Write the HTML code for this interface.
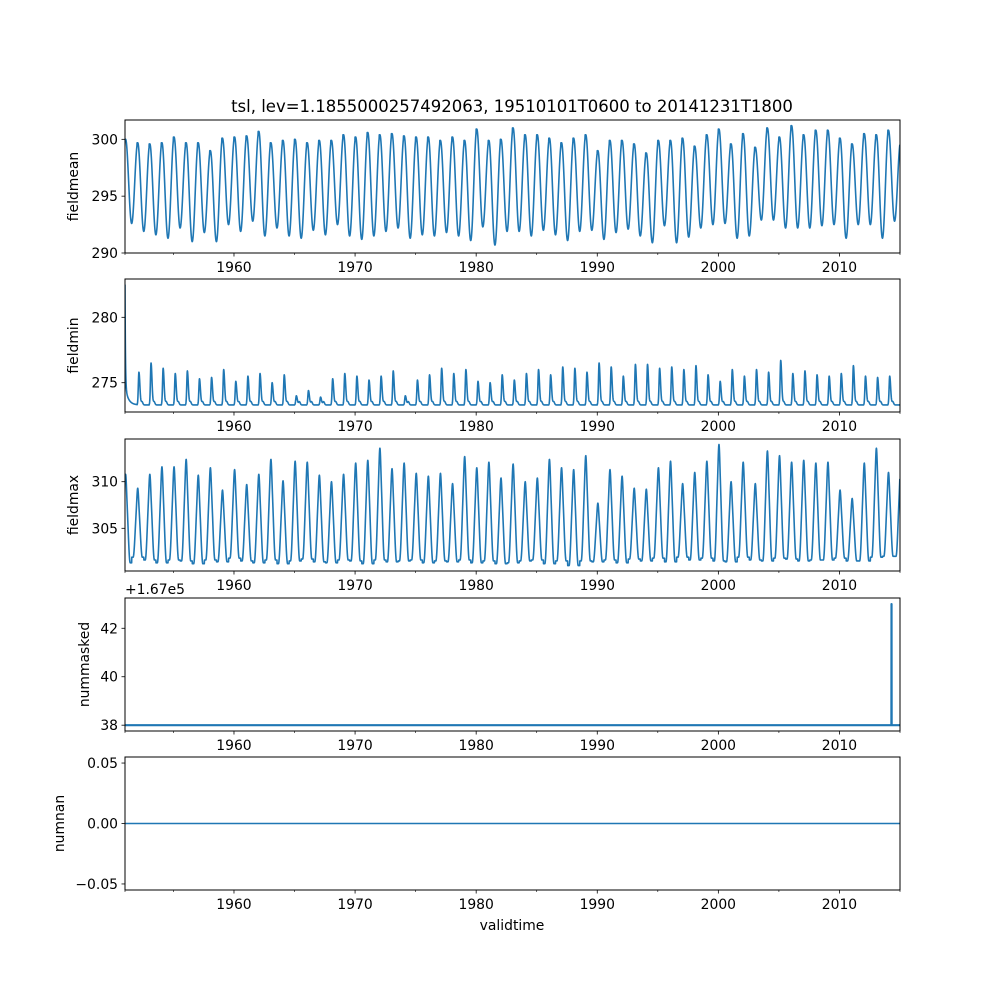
<!DOCTYPE html>
<html><head><meta charset="utf-8">
<style>
html,body{margin:0;padding:0;background:#fff;}
svg{display:block;font-family:"DejaVu Sans","Liberation Sans",sans-serif;}
</style></head>
<body>
<svg id="fig" width="1000" height="1000" viewBox="0 0 1000 1000" xmlns="http://www.w3.org/2000/svg">
<rect width="1000" height="1000" fill="#fff"/>
<text x="512" y="112" font-size="16.5" text-anchor="middle">tsl, lev=1.1855000257492063, 19510101T0600 to 20141231T1800</text>
<text x="512" y="930" font-size="13.9" text-anchor="middle">validtime</text>
</svg>
<script>
// ---- data ----
const years = [];
for (let y = 1951; y <= 2014; y++) years.push(y);
const xTicks = [1960, 1970, 1980, 1990, 2000, 2010];
const xMinorTicks = [1951, 1955, 1965, 1975, 1985, 1995, 2005, 2015];

const meanPeaks = [300.0,299.7,299.6,299.7,300.2,299.7,299.7,299.0,300.1,300.2,300.3,300.7,299.7,299.9,300.0,299.7,299.9,299.9,300.4,300.2,300.6,300.4,300.5,300.3,300.2,300.2,299.9,300.2,299.9,300.9,299.9,
 300.0,301.0,300.4,300.4,300.1,299.7,300.1,300.4,299.0,299.9,299.9,299.6,298.8,299.9,299.9,300.1,299.4,300.4,300.9,299.6,300.5,299.3,301.0,300.2,301.2,300.4,300.8,300.8,300.1,299.6,300.5,300.4,300.8];
const meanTroughs = [292.6,291.9,291.6,291.3,292.2,291.0,291.8,291.0,292.5,291.9,292.8,291.5,292.2,291.5,291.3,292.0,291.6,292.5,291.5,291.2,291.5,291.9,292.2,291.3,291.6,291.5,291.8,291.5,291.1,292.3,290.7,
 291.9,291.9,291.5,292.0,291.6,291.1,291.9,292.0,291.2,291.8,292.1,291.5,290.9,292.4,290.9,291.4,292.2,292.5,292.6,291.3,291.5,292.9,292.9,292.2,292.2,292.2,292.4,292.5,291.3,292.5,292.5,291.3,292.8];

const minStart = 282.5;
const minBase = 273.3;
const minSpikes = [273.9,275.8,276.5,276.1,275.7,275.9,275.3,275.4,276.0,275.1,275.5,275.7,275.0,275.6,274.0,274.4,273.9,275.3,275.7,275.5,275.2,275.5,275.9,274.0,275.2,275.6,276.1,275.7,276.0,275.1,
 275.0,275.6,275.2,275.7,276.0,275.6,276.2,276.1,275.8,276.5,276.2,275.5,276.4,276.4,276.1,276.2,276.0,276.3,275.6,275.1,276.0,275.5,276.0,275.8,276.7,275.7,275.9,275.6,275.5,275.7,276.3,275.5,275.4,275.5];

const maxPeaks = [310.8,309.3,310.8,311.6,311.6,312.4,310.7,311.5,309.1,311.3,309.7,310.8,312.4,310.1,312.2,312.1,310.7,310.0,310.8,312.0,312.3,313.6,311.4,312.0,310.9,310.6,310.9,309.8,312.7,311.5,312.1,
 310.4,311.9,310.0,310.4,312.4,311.5,311.3,312.8,307.7,311.3,310.6,309.3,309.2,311.5,312.2,309.8,311.0,312.2,314.0,310.0,312.1,309.8,313.3,312.8,312.1,312.3,312.0,312.1,309.1,308.2,312.0,313.6,311.0];
const maxTroughs = [301.3,301.9,301.6,301.3,301.6,301.5,301.2,301.6,301.4,301.8,301.5,301.3,301.6,301.2,301.5,301.7,301.4,301.3,301.6,301.5,301.2,301.6,301.4,301.5,301.6,301.3,301.5,301.4,301.6,301.3,301.5,
 301.2,301.3,301.5,301.6,301.2,301.5,301.0,301.5,301.4,301.6,301.3,301.7,301.5,301.8,301.4,301.9,301.6,301.8,301.5,301.4,301.9,301.6,301.5,301.8,301.7,301.5,301.6,301.6,301.8,301.5,301.5,301.9,302.0];

const maskBase = 38;
const maskSpikeYear = 2014.3;
const maskSpikeValue = 43;
const nanValue = 0;

const ticks1 = [290, 295, 300];
const ticks2 = [275, 280];
const ticks3 = [305, 310];
const ticks4 = [38, 40, 42];
const ticks5 = [-0.05, 0.00, 0.05];
const tickLabels5 = ["\u22120.05", "0.00", "0.05"];

// ---- layout ----
const svg = document.getElementById('fig');
const NS = 'http://www.w3.org/2000/svg';
const X0 = 125, X1 = 900, T0 = 1951.0, T1 = 2015.0;
function xs(t){ return X0 + (t - T0) / (T1 - T0) * (X1 - X0); }
const C = '#1f77b4';

function el(tag, attrs, parent){
  const e = document.createElementNS(NS, tag);
  for (const k in attrs) e.setAttribute(k, attrs[k]);
  (parent || svg).appendChild(e);
  return e;
}

function makePanel(top, bottom, ymin, ymax, name){
  const g = el('g', {});
  
  
  const ys = v => bottom - (v - ymin) / (ymax - ymin) * (bottom - top);
  return {g, ys, top, bottom};
}

function drawFrame(p, yTicks, yLabels, yTitle, yTitleX, name){
  const g = p.g;
  xTicks.forEach(t => {
    const x = xs(t);
    const l = el('line', {x1:x, x2:x, y1:p.bottom, y2:p.bottom+3.5, stroke:'#000', 'stroke-width':0.8}, g);
    
    
    const tx = el('text', {x:x, y:p.bottom+19, 'font-size':13.9, 'text-anchor':'middle'}, g);
    
    
    tx.textContent = String(t);
  });
  xMinorTicks.forEach(t => {
    const x = xs(t);
    const l = el('line', {x1:x, x2:x, y1:p.bottom, y2:p.bottom+2, stroke:'#000', 'stroke-width':0.6}, g);
    
    
  });
  yTicks.forEach((v, i) => {
    const y = p.ys(v);
    const l = el('line', {x1:X0-3.5, x2:X0, y1:y, y2:y, stroke:'#000', 'stroke-width':0.8}, g);
    
    
    const tx = el('text', {x:X0-7, y:y+5, 'font-size':13.9, 'text-anchor':'end'}, g);
    
    
    tx.textContent = yLabels[i];
  });
  const cy = (p.top + p.bottom) / 2;
  const yt = el('text', {x:yTitleX, y:cy, 'font-size':13.9, 'text-anchor':'middle', transform:`rotate(-90 ${yTitleX} ${cy})`}, g);
  
  
  yt.textContent = yTitle;
  const r = el('rect', {x:X0, y:p.top, width:X1-X0, height:p.bottom-p.top, fill:'none', stroke:'#000', 'stroke-width':1}, g);
  
  
}

function drawLine(p, pts, name, w){
  const cp = 'clip-' + name;
  const clip = el('clipPath', {id:cp}, p.g);
  el('rect', {x:X0, y:p.top, width:X1-X0, height:p.bottom-p.top}, clip);
  let d = '';
  pts.forEach((q, i) => { d += (i ? 'L' : 'M') + xs(q[0]).toFixed(2) + ',' + p.ys(q[1]).toFixed(2); });
  const path = el('path', {d:d, fill:'none', stroke:C, 'stroke-width':w || 1.6, 'stroke-linejoin':'round', 'clip-path':`url(#${cp})`}, p.g);
  
  
}

const ease = f => 0.5 - 0.5 * Math.cos(Math.PI * Math.min(1, Math.max(0, f)));
const STEP = 1/73;

// panel 1 : fieldmean
(function(){
  const p = makePanel(120, 253, 290, 301.7, 'fieldmean');
  const pts = [];
  years.forEach((y, i) => {
    const pk = meanPeaks[i], tr = meanTroughs[i];
    const nx = i + 1 < years.length ? meanPeaks[i+1] : 299.8;
    for (let f = 0; f < 1 - 1e-9; f += STEP){
      let v;
      if (f < 0.55) v = pk + (tr - pk) * ease(Math.max(0, f - 0.05) / 0.5);
      else v = tr + (nx - tr) * ease((f - 0.55) / 0.5);
      pts.push([y + f, v]);
    }
  });
  drawLine(p, pts, 'fieldmean');
  drawFrame(p, ticks1, ticks1.map(String), 'fieldmean', 78, 'fieldmean');
})();

// panel 2 : fieldmin
(function(){
  const p = makePanel(279, 412, 272.76, 282.93, 'fieldmin');
  const pts = [];
  years.forEach((y, i) => {
    const sp = minSpikes[i];
    for (let f = 0; f < 1 - 1e-9; f += STEP/2){
      let v;
      if (i === 0){
        v = minBase + (minStart - minBase - 1.5) * Math.exp(-f / 0.035) + 1.5 * Math.exp(-f / 0.25);
      } else {
        const d = f - 0.15;
        v = minBase + (sp - minBase) * Math.exp(-Math.pow(d / (d < 0 ? 0.07 : 0.11), 2))
            + 0.25 * Math.exp(-Math.pow((f - 0.4) / 0.1, 2));
      }
      pts.push([y + f, v]);
    }
  });
  drawLine(p, pts, 'fieldmin');
  drawFrame(p, ticks2, ticks2.map(String), 'fieldmin', 78, 'fieldmin');
})();

// panel 3 : fieldmax
(function(){
  const p = makePanel(439, 571, 300.42, 314.58, 'fieldmax');
  const pts = [];
  const prof = (pk, tr, f) => {
    const a = Math.abs(f);
    const core = Math.exp(-Math.pow(f / 0.08, 2));
    const shoulder = 1 - ease((a - 0.04) / 0.34);
    return tr + (pk - tr) * (0.25 * core + 0.75 * shoulder);
  };
  years.forEach((y, i) => {
    const pk = maxPeaks[i], tr = maxTroughs[i];
    const nx = i + 1 < years.length ? maxPeaks[i+1] : 311.5;
    const ntr = i + 1 < years.length ? maxTroughs[i+1] : tr;
    for (let f = 0; f < 1 - 1e-9; f += STEP){
      let v;
      if (f < 0.55) v = prof(pk, tr, f - 0.05);
      else v = prof(nx, ntr, f - 1.05);
      pts.push([y + f, v]);
    }
  });
  drawLine(p, pts, 'fieldmax');
  drawFrame(p, ticks3, ticks3.map(String), 'fieldmax', 78, 'fieldmax');
})();

// panel 4 : nummasked
(function(){
  const p = makePanel(598, 731, 37.76, 43.25, 'nummasked');
  const pts = [[1951, maskBase], [maskSpikeYear - 0.01, maskBase], [maskSpikeYear, maskSpikeValue], [maskSpikeYear + 0.01, maskBase], [2015, maskBase]];
  drawLine(p, pts, 'nummasked', 2.2);
  drawFrame(p, ticks4, ticks4.map(String), 'nummasked', 89, 'nummasked');
  const off = el('text', {x:125, y:594, 'font-size':13.9}, p.g);
  
  
  off.textContent = '+1.67e5';
})();

// panel 5 : numnan
(function(){
  const p = makePanel(757, 890, -0.055, 0.055, 'numnan');
  const pts = [[1951, nanValue], [2015, nanValue]];
  drawLine(p, pts, 'numnan');
  drawFrame(p, ticks5, tickLabels5, 'numnan', 64, 'numnan');
})();
</script>
</body></html>
